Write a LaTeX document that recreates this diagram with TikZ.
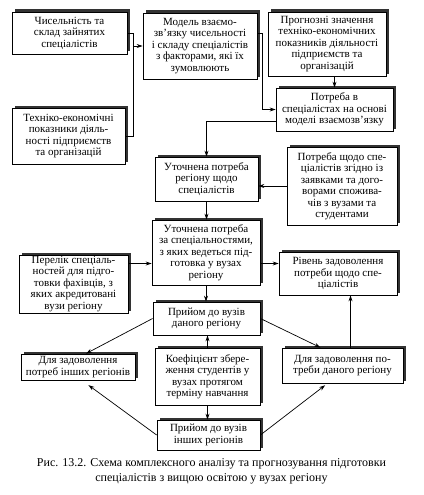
\documentclass[tikz,border=0pt]{standalone}
\usepackage{fontspec}
\setmainfont{Liberation Serif}
\usetikzlibrary{arrows.meta,calc}

\tikzset{
    block/.style={draw, line width=0.8pt, fill=white, align=center,
        inner sep=1pt, font=\fontsize{11}{11.5}\selectfont,
        preaction={draw=none, fill=black!80,
            transform canvas={xshift=2.5pt, yshift=2.5pt}}},
    link/.style={line width=0.7pt, -{Stealth[length=6pt,width=4pt]}},
    plain/.style={line width=0.7pt},
}

\begin{document}
\begin{tikzpicture}[x=1pt,y=-1pt]
        \useasboundingbox (0,0) rectangle (423,495);

        \node[block, minimum width=115pt, minimum height=42pt] (chys) at (69.5,33)
            {Чисельність та\\склад зайнятих\\спеціалістів};
        \node[block, minimum width=113pt, minimum height=56pt] (tekh) at (68.5,136)
            {Техніко-економічні\\показники діяль-\\ності підприємств\\та організацій};
        \node[block, minimum width=114pt, minimum height=66pt] (model) at (200,46)
            {Модель взаємо-\\зв’язку чисельності\\і складу спеціалістів\\з факторами, які їх\\зумовлюють};
        \node[block, minimum width=118pt, minimum height=64pt] (prog) at (327,44)
            {Прогнозні значення\\техніко-економічних\\показників діяльності\\підприємств та\\організацій};
        \node[block, minimum width=117pt, minimum height=43pt] (potr) at (334.5,109.5)
            {Потреба в\\спеціалістах на основі\\моделі взаємозв’язку};
        \node[block, minimum width=103pt, minimum height=44pt] (utochreg) at (206.5,179)
            {Уточнена потреба\\регіону щодо\\спеціалістів};
        \node[block, minimum width=110pt, minimum height=78pt] (zayav) at (342,186)
            {Потреба щодо спе-\\ціалістів згідно із\\заявками та дого-\\ворами спожива-\\чів з вузами та\\студентами};
        \node[block, minimum width=108pt, minimum height=65pt] (utochspec) at (206,252.5)
            {Уточнена потреба\\за спеціальностями,\\з яких ведеться під-\\готовка у вузах\\регіону};
        \node[block, minimum width=109pt, minimum height=58pt] (perelik) at (73.5,284)
            {Перелік спеціаль-\\ностей для підго-\\товки фахівців, з\\яких акредитовані\\вузи регіону};
        \node[block, minimum width=118pt, minimum height=43pt] (riven) at (338,273.5)
            {Рівень задоволення\\потреби щодо спе-\\ціалістів};
        \node[block, minimum width=107pt, minimum height=33pt] (pryiomdan) at (206.5,318.5)
            {Прийом до вузів\\даного регіону};
        \node[block, minimum width=105pt, minimum height=57pt] (koef) at (207.5,376.5)
            {Коефіцієнт збере-\\ження студентів у\\вузах протягом\\терміну навчання};
        \node[block, minimum width=103pt, minimum height=30pt] (pryiomin) at (208.5,435)
            {Прийом до вузів\\інших регіонів};
        \node[block, minimum width=114pt, minimum height=26pt] (zadin) at (78,367)
            {Для задоволення\\потреб інших регіонів};
        \node[block, minimum width=121pt, minimum height=35pt] (zaddan) at (342.5,365.5)
            {Для задоволення по-\\треби даного регіону};

        % top part
        \draw[plain] (chys.east) -- ++(6,0) coordinate (j1) |- (tekh.east);
        \draw[link] (j1 |- model.west) -- (model.west);
        \draw[link] ([yshift=13pt]model.east) -- ++(5,0) |- (potr.west);
        \draw[link] (prog.south -| potr.north) -- (potr.north);
        \draw[link] ([yshift=-12pt]potr.west) -| (utochreg.north);
        \draw[link] (zayav.west) -- (zayav.west -| utochreg.east);
        \draw[link] (utochreg.south) -- (utochreg.south |- utochspec.north);

        % middle
        \draw[link] ([yshift=-11pt]utochspec.west -| perelik.east) -- ([yshift=-11pt]utochspec.west);
        \draw[link] ([yshift=-11pt]utochspec.east) -- ([yshift=-11pt]utochspec.east -| riven.west);
        \draw[link] (utochspec.south) -- (utochspec.south |- pryiomdan.north);
        \draw[link] (koef.north) -- (koef.north |- pryiomdan.south);
        \draw[link] (koef.south) -- (koef.south |- pryiomin.north);

        % bottom
        \draw[link] (pryiomdan.west) -- ([xshift=8pt]zadin.north);
        \draw[link, shorten >=8pt] (pryiomin.west) -- ([xshift=4pt]zadin.south);
        \draw[link] (pryiomdan.east) -- ([xshift=-22pt]zaddan.north);
        \draw[link, shorten >=3pt] (pryiomin.east) -- ([xshift=-15pt]zaddan.south);
        \draw[link] ([xshift=8pt]zaddan.north) -- ([xshift=8pt]zaddan.north |- riven.south);

        \node[align=center, font=\fontsize{12}{15}\selectfont] (caption) at (211.5,471)
            {Рис. 13.2. Схема комплексного аналізу та прогнозування підготовки\\
             спеціалістів з вищою освітою у вузах регіону};
\end{tikzpicture}
\end{document}
